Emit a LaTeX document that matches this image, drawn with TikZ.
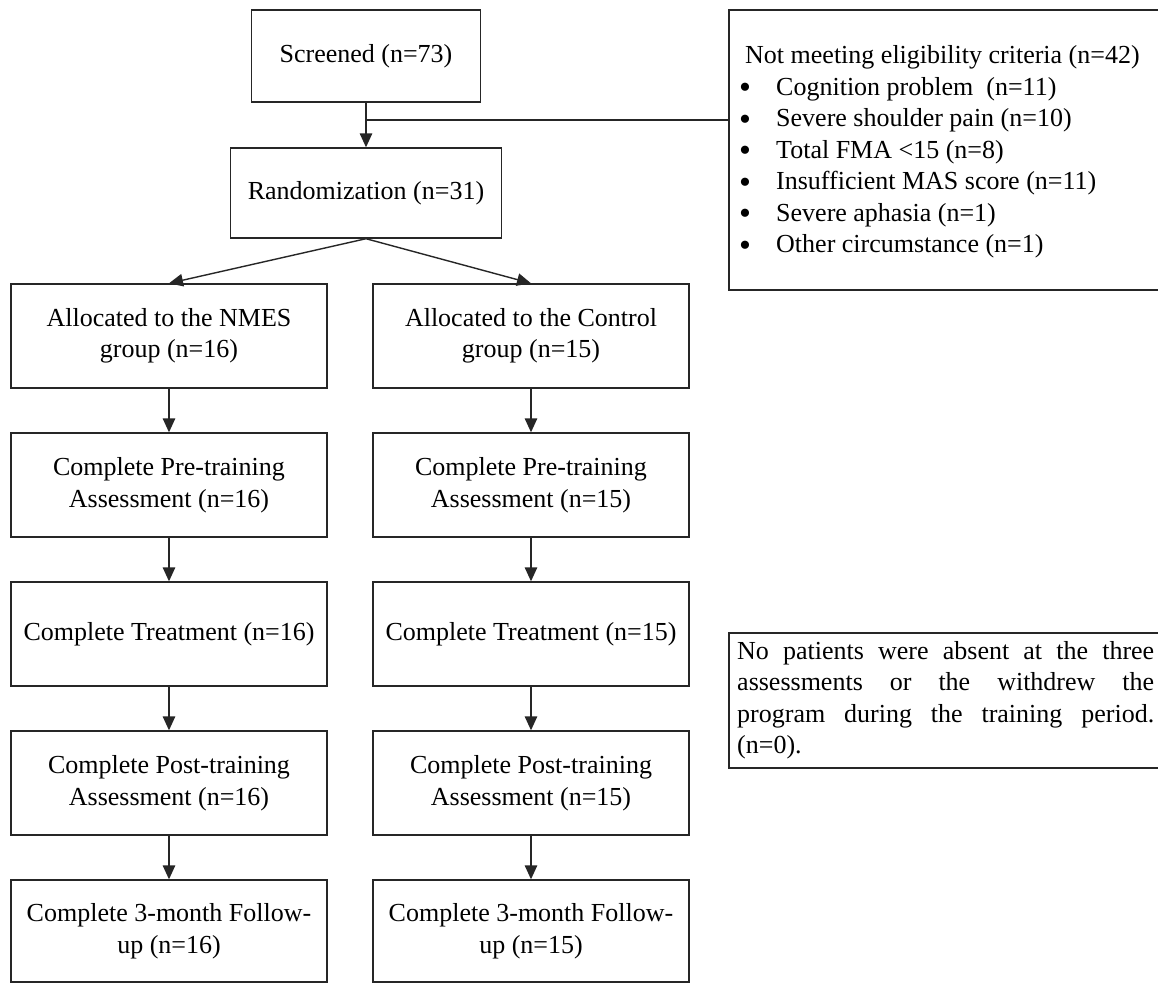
\documentclass[tikz,border=0pt]{standalone}
\usepackage{fontspec}
\setmainfont{Liberation Serif}
\usetikzlibrary{arrows.meta}
\newcommand\boxfont{\fontsize{26pt}{31.5pt}\selectfont}
\newcommand\bul{\makebox[37pt][l]{\smash{\raisebox{-3.5pt}{\fontsize{34pt}{0pt}\selectfont\textbullet}}}}
\begin{document}
\begin{tikzpicture}[x=1pt,y=-1pt,
  box/.style={draw=black!85, line width=1.4pt, minimum width=316pt,
    minimum height=104pt, align=center, inner sep=0pt, font=\boxfont},
  txt/.style={inner sep=0pt, font=\boxfont},
  link/.style={draw=black!85, line width=1.4pt},
  arr/.style={link, -{Triangle[length=14pt,width=12.5pt]}}]
\useasboundingbox (0,0) rectangle (1158,983);
\fill[white] (0,0) rectangle (1158,983);

% enrolment
\node[box, minimum width=229pt, minimum height=92pt] (scr) at (366,56) {Screened (n=73)};
\node[box, minimum width=271pt, minimum height=90pt] (rnd) at (366,193) {Randomization (n=31)};
\node[box, minimum width=441pt, minimum height=280pt] (elig) at (949.5,150) {};
\node[txt, anchor=west, align=left] (eligtxt) at (739,152)
  {\hspace{6pt}Not meeting eligibility criteria (n=42)\\
   \bul Cognition problem \ (n=11)\\
   \bul Severe shoulder pain (n=10)\\
   \bul Total FMA <15 (n=8)\\
   \bul Insufficient MAS score (n=11)\\
   \bul Severe aphasia (n=1)\\
   \bul Other circumstance (n=1)};

% NMES arm
\node[box] (l1) at (169,336) {Allocated to the NMES\\group (n=16)};
\node[box] (l2) at (169,485) {Complete Pre-training\\Assessment (n=16)};
\node[box] (l3) at (169,634) {Complete Treatment (n=16)};
\node[box] (l4) at (169,783) {Complete Post-training\\Assessment (n=16)};
\node[box, minimum height=102pt] (l5) at (169,931) {Complete 3-month Follow-\\up (n=16)};

% control arm
\node[box] (r1) at (531,336) {Allocated to the Control\\group (n=15)};
\node[box] (r2) at (531,485) {Complete Pre-training\\Assessment (n=15)};
\node[box] (r3) at (531,634) {Complete Treatment (n=15)};
\node[box] (r4) at (531,783) {Complete Post-training\\Assessment (n=15)};
\node[box, minimum height=102pt] (r5) at (531,931) {Complete 3-month Follow-\\up (n=15)};

% note on drop-outs
\node[box, minimum width=441pt, minimum height=135pt] (note) at (949.5,700.5) {};
\node[txt, anchor=west, text width=417pt, align=justify] (notetxt) at (737,700)
  {No patients were absent at the three\linebreak
   assessments or the withdrew the\linebreak
   program during the training period.\linebreak
   (n=0).};

% connectors
\coordinate (j) at (366,120);
\draw[arr] (scr.south) -- (rnd.north);
\draw[link] (j) -- (j -| elig.west);
\draw[arr] (rnd.south) -- (l1.north);
\draw[arr] (rnd.south) -- (r1.north);
\foreach \a/\b in {l1/l2,l2/l3,l3/l4,l4/l5,r1/r2,r2/r3,r3/r4,r4/r5}
  \draw[arr] (\a.south) -- (\b.north);
\end{tikzpicture}
\end{document}
